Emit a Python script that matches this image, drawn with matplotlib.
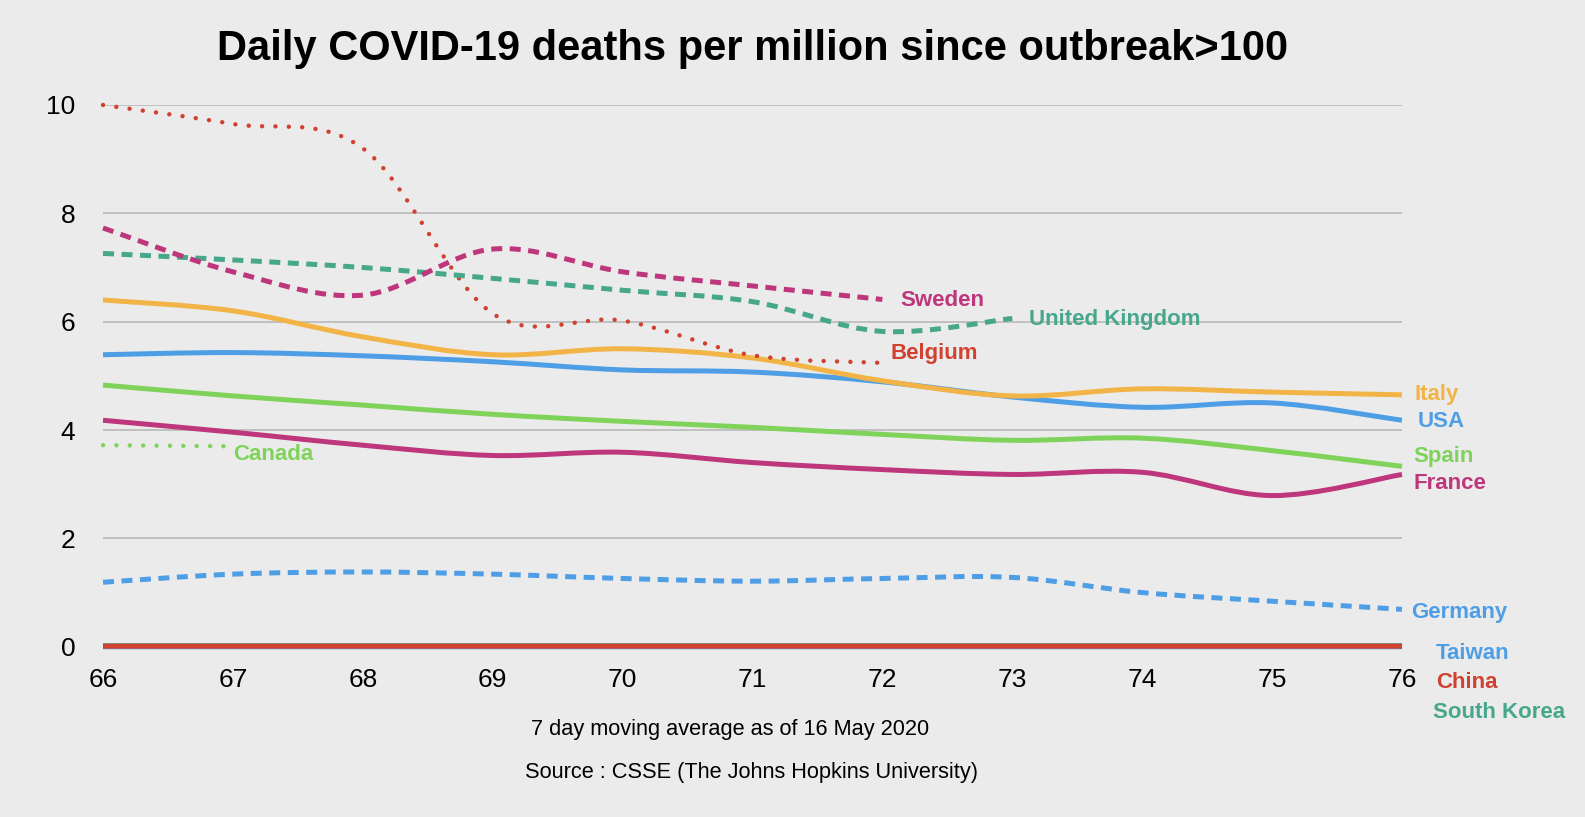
import numpy as np
import matplotlib
matplotlib.use("Agg")
import matplotlib.pyplot as plt
from matplotlib.path import Path
from matplotlib.patches import PathPatch

plt.rcParams['font.family'] = ['Liberation Sans', 'DejaVu Sans']

# days since deaths per million passed 100
days = [66, 67, 68, 69, 70, 71, 72, 73, 74, 75, 76]

belgium = [10.0, 9.65, 9.2, 6.15, 6.02, 5.38, 5.24]
sweden = [7.73, 6.92, 6.49, 7.34, 6.92, 6.66, 6.41]
uk = [7.26, 7.14, 7.0, 6.8, 6.58, 6.37, 5.82, 6.06]
italy = [6.40, 6.20, 5.72, 5.39, 5.50, 5.33, 4.91, 4.63, 4.76, 4.70, 4.65]
usa = [5.39, 5.43, 5.37, 5.26, 5.11, 5.07, 4.89, 4.61, 4.42, 4.50, 4.18]
spain = [4.83, 4.63, 4.46, 4.29, 4.16, 4.05, 3.92, 3.81, 3.85, 3.62, 3.33]
france = [4.18, 3.96, 3.72, 3.53, 3.59, 3.40, 3.27, 3.18, 3.22, 2.79, 3.18]
germany = [1.19, 1.34, 1.38, 1.34, 1.26, 1.21, 1.26, 1.28, 1.00, 0.84, 0.69]
canada = [3.72, 3.70]
taiwan = [0.0] * 11
south_korea = [0.02] * 11
china = [0.01] * 11

# name, values, colour, style, label position
series = [
    ("Taiwan", taiwan, "#4E9EE6", "solid", (76.26, -0.12)),
    ("South Korea", south_korea, "#47A78B", "solid", (76.24, -1.22)),
    ("China", china, "#D1412F", "solid", (76.26, -0.66)),
    ("Germany", germany, "#4E9EE6", "dashed", (76.07, 0.63)),
    ("France", france, "#BE367B", "solid", (76.09, 3.02)),
    ("Spain", spain, "#80D35A", "solid", (76.09, 3.52)),
    ("Canada", canada, "#80D35A", "dotted", (67.0, 3.54)),
    ("USA", usa, "#4E9EE6", "solid", (76.12, 4.16)),
    ("Italy", italy, "#F2B446", "solid", (76.10, 4.66)),
    ("Belgium", belgium, "#D1412F", "dotted", (72.06, 5.41)),
    ("United Kingdom", uk, "#47A78B", "dashed", (73.13, 6.04)),
    ("Sweden", sweden, "#BE367B", "dashed", (72.14, 6.40)),
]


def smooth_path(xs, ys, k=1 / 6):
    # Catmull-Rom through the points, expressed as cubic Bezier segments
    pts = np.column_stack([xs, ys]).astype(float)
    verts = [pts[0]]
    codes = [Path.MOVETO]
    n = len(pts)
    for i in range(n - 1):
        p0 = pts[i - 1] if i > 0 else pts[i]
        p1 = pts[i]
        p2 = pts[i + 1]
        p3 = pts[i + 2] if i + 2 < n else pts[i + 1]
        c1 = p1 + (p2 - p0) * k
        c2 = p2 - (p3 - p1) * k
        verts += [c1, c2, p2]
        codes += [Path.CURVE4] * 3
    return Path(verts, codes)


fig = plt.figure(figsize=(15.85, 8.17), dpi=100)
fig.patch.set_facecolor("#EBEBEB")
ax = fig.add_axes([0.065, 0.2084, 0.8195, 0.6631])
ax.set_facecolor("#EBEBEB")
ax.set_xlim(66, 76)
ax.set_ylim(0, 10)

for sp in ax.spines.values():
    sp.set_visible(False)
ax.set_yticks([0, 2, 4, 6, 8, 10])
ax.set_xticks(days)
ax.tick_params(length=0, labelsize=19, pad=15)
ax.tick_params(axis="y", pad=20)
for v in [2, 4, 6, 8, 10]:
    ax.axhline(v, color="#B5B5B5", lw=1.1, zorder=1)

styles = {
    "solid": dict(linestyle="solid", lw=3.6, capstyle="butt"),
    "dashed": dict(linestyle=(0, (2.2, 1.5)), lw=3.6, capstyle="butt"),
    "dotted": dict(linestyle=(0, (0.01, 3.0)), lw=3.2, capstyle="round"),
}

for name, vals, col, st, (lx, ly) in series:
    xs = days[:len(vals)]
    path = smooth_path(xs, vals)
    patch = PathPatch(path, facecolor="none", edgecolor=col, transform=ax.transData,
                      clip_on=False, zorder=3, **styles[st])
    ax.add_patch(patch)
    ax.text(lx, ly, name, color=col, fontsize=16, fontweight="bold",
            ha="left", va="center", clip_on=False)

fig.text(0.475, 0.94, "Daily COVID-19 deaths per million since outbreak>100",
         ha="center", va="center", fontsize=30, fontweight="bold")
fig.text(0.4606, 0.1077, "7 day moving average as of 16 May 2020",
         ha="center", va="center", fontsize=15.7)
fig.text(0.474, 0.0539, "Source : CSSE (The Johns Hopkins University)",
         ha="center", va="center", fontsize=15.7)

fig.savefig("out.png", dpi=100, facecolor=fig.get_facecolor())
